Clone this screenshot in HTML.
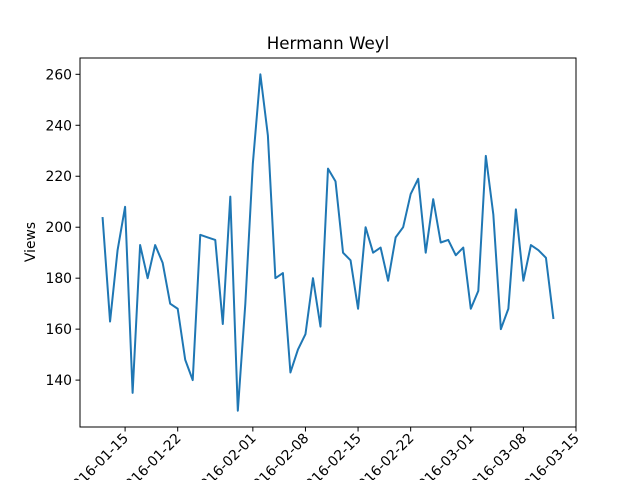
<!DOCTYPE html>
<html><head><meta charset="utf-8"><style>body{margin:0;background:#fff}svg{display:block}text{font-family:"DejaVu Sans","Liberation Sans",sans-serif;fill:#000}</style></head>
<body>
<svg id="chart" width="640" height="480" xmlns="http://www.w3.org/2000/svg">
<text x="328" y="49" font-size="16.7" text-anchor="middle">Hermann Weyl</text>
<text transform="translate(35,242) rotate(-90)" font-size="13.9" text-anchor="middle">Views</text>
<g id="ticks"></g>
<path id="line" fill="none" stroke="#1f77b4" stroke-width="2" stroke-linejoin="round"/>
<rect x="80" y="58" width="496" height="369" fill="none" stroke="#000" stroke-width="1"/>
</svg>
<script>
const startDay = 0; // index 0 = 2016-01-12
const views = [204,163,191,208,135,193,180,193,186,170,168,148,140,197,196,195,162,212,128,170,
225,260,236,180,182,143,152,158,180,161,223,218,190,187,168,200,190,192,179,196,200,213,219,190,211,194,195,189,192,
168,175,228,205,160,168,207,179,193,191,188,164];
const yTicks = [140,160,180,200,220,240,260];
const xTickLabels = ["2016-01-15","2016-01-22","2016-02-01","2016-02-08","2016-02-15","2016-02-22","2016-03-01","2016-03-08","2016-03-15"];
const xTickDays = [3,10,20,27,34,41,49,56,63];
const xMin=-3, xMax=63, yMin=121.6, yMax=266.4;
const L=80,R=576,T=58,B=427;
const xs=d=>L+(d-xMin)/(xMax-xMin)*(R-L);
const ys=v=>B-(v-yMin)/(yMax-yMin)*(B-T);
const NS="http://www.w3.org/2000/svg";
const g=document.getElementById('ticks');
function mk(tag,attrs){const e=document.createElementNS(NS,tag);for(const k in attrs)e.setAttribute(k,attrs[k]);g.appendChild(e);return e;}
yTicks.forEach(v=>{
  const y=ys(v);
  const t=mk('line',{x1:L-4.5,x2:L,y1:y,y2:y,stroke:'#000','stroke-width':1});
  
  
  const tx=mk('text',{x:L-8,y:y+5,'font-size':13.9,'text-anchor':'end'});
  tx.textContent=v;
  
  
});
xTickDays.forEach((d,i)=>{
  const x=xs(d);
  const t=mk('line',{x1:x,x2:x,y1:B,y2:B+4.5,stroke:'#000','stroke-width':1});
  
  
  const tx=mk('text',{transform:`translate(${x+4},${B+12}) rotate(-45)`,'font-size':13.9,'text-anchor':'end'});
  tx.textContent=xTickLabels[i];
  
  
});
document.getElementById('line').setAttribute('d',views.map((v,i)=>(i?'L':'M')+xs(startDay+i).toFixed(2)+','+ys(v).toFixed(2)).join(' '));
</script>
</body></html>
